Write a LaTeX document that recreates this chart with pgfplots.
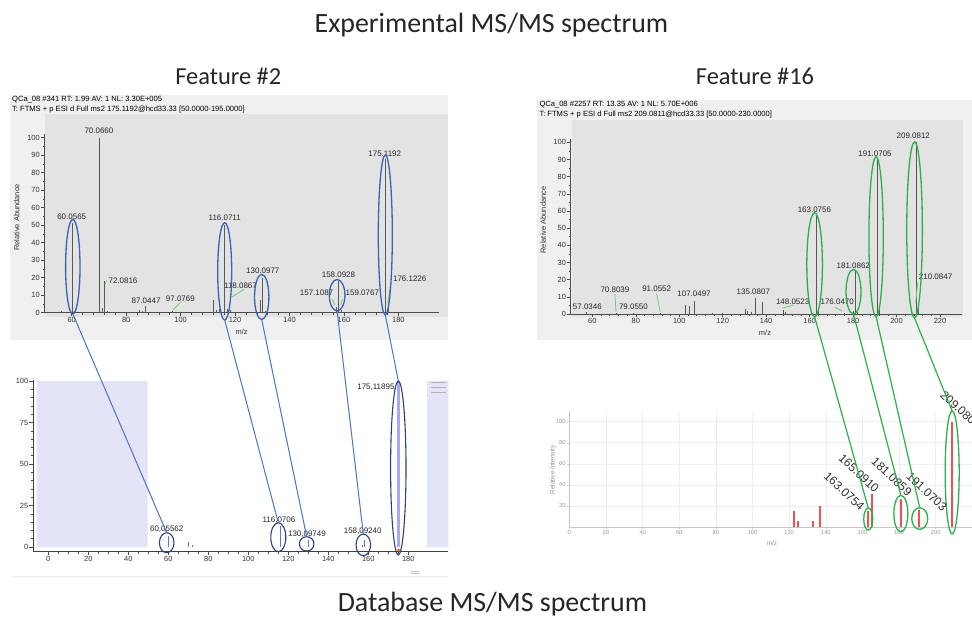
\documentclass[border=0pt]{standalone}
\usepackage{pgfplots}
\pgfplotsset{compat=1.18}
\usepackage{fontspec}
\setmainfont{Carlito}
\newfontfamily\arial{Liberation Sans}
\definecolor{tlblue}{HTML}{3C62B4}
\definecolor{lnblue}{HTML}{4A74C6}
\definecolor{navy}{HTML}{2A4180}
\definecolor{grn}{HTML}{2DB04C}
\definecolor{lgrn}{HTML}{70CC70}
\definecolor{outerg}{HTML}{F0F0F0}
\definecolor{innerg}{HTML}{E3E3E3}
\definecolor{lav}{HTML}{E4E4F8}
\definecolor{purp}{HTML}{6C6CE0}
\definecolor{purpl}{HTML}{A8A8F2}
\definecolor{redbar}{HTML}{EF5050}
\definecolor{ttl}{HTML}{262626}

\tikzset{lbl/.style={font=\arial\fontsize{8}{9}\selectfont, text=black!85, inner sep=0.5bp}}
\pgfplotsset{
  nolinearrows/.style={axis line style={-}, every outer x axis line/.append style={-}, every outer y axis line/.append style={-}},
  xcal/.style={
    scale only axis, clip=false,
    axis lines=left, nolinearrows, axis line style={black!70, line width=0.6bp},
    tick align=outside, major tick length=3.5bp, minor tick length=2bp,
    every tick/.style={black!70, line width=0.5bp},
    tick label style={font=\arial\fontsize{7.5}{9}\selectfont, text=black!80, inner sep=1bp},
    /pgf/number format/assume math mode=true,
    ymin=0, ymax=102,
    ytick={0,10,...,100}, minor y tick num=1,
    xtick={60,80,...,220}, minor x tick num=4,
  },
  spk/.style={ycomb, no marks, draw=black!65, line width=0.6bp},
}

\begin{document}
\begin{tikzpicture}[x=1bp,y=1bp]
\useasboundingbox (0,0) rectangle (972,620);
\clip (0,0) rectangle (972,620);
\fill[white] (0,0) rectangle (972,620);
% titles
\node[anchor=base, text=ttl, font=\fontsize{28}{30}\selectfont] at (491.5,587) {Experimental MS/MS spectrum};
\node[anchor=base, text=ttl, font=\fontsize{24.5}{27}\selectfont] at (228.3,535) {Feature \#2};
\node[anchor=base, text=ttl, font=\fontsize{24.5}{27}\selectfont] at (755,535) {Feature \#16};
\node[anchor=base, text=ttl, font=\fontsize{28}{30}\selectfont] at (492.5,8.3) {Database MS/MS spectrum};
% panel backgrounds
\fill[outerg] (10,280) rectangle (448,525);
\fill[innerg] (45,303) rectangle (448,506);
\fill[outerg] (537,280) rectangle (972,520);
\fill[innerg] (572,303) rectangle (963,500);
% headers
\node[anchor=west, font=\arial\fontsize{7.6}{9}\selectfont, inner sep=0] at (12,520) {QCa\_08 \#341 RT: 1.99 AV: 1 NL: 3.30E+005};
\node[anchor=west, font=\arial\fontsize{7.6}{9}\selectfont, inner sep=0] at (12,510.7) {T: FTMS + p ESI d Full ms2 175.1192@hcd33.33 [50.0000-195.0000]};
\node[anchor=west, font=\arial\fontsize{7.6}{9}\selectfont, inner sep=0] at (539.3,515) {QCa\_08 \#2257 RT: 13.35 AV: 1 NL: 5.70E+006};
\node[anchor=west, font=\arial\fontsize{7.6}{9}\selectfont, inner sep=0] at (539.3,505.7) {T: FTMS + p ESI d Full ms2 209.0811@hcd33.33 [50.0000-230.0000]};
% axis labels top
\node[rotate=90, font=\arial\fontsize{7.5}{9}\selectfont, text=black!80] at (16.7,402.5) {Relative Abundance};
\node[font=\arial\fontsize{7.5}{9}\selectfont, text=black!80] at (241.7,288.3) {m/z};
\node[rotate=90, font=\arial\fontsize{7.5}{9}\selectfont, text=black!80] at (543.3,400) {Relative Abundance};
\node[font=\arial\fontsize{7.5}{9}\selectfont, text=black!80] at (765,286.7) {m/z};

% ---------------- top left
\begin{axis}[xcal, at={(44.5bp,307.3bp)}, anchor=south west, width=394.7bp, height=178.5bp, xmin=50, xmax=195, xtick={60,80,...,180}]
\addplot[spk] coordinates {(56,0.8)(60.06,51)(61.05,0.8)(70.07,100)(71.05,2.5)(72.08,18)(73.1,1)(84.9,1.5)(86,1)(87.04,4)(97.08,1)(100.5,0.5)(112.05,7)(113,1.5)(114.05,2)(116.07,50)(117.07,2)(118.09,1.5)(129.1,7.5)(130.1,20)(131.1,1)(140,0.5)(157.11,3)(158.09,18)(159.08,1.5)(175.12,88)(176.12,3)};
\draw[lgrn, line width=0.8bp] (axis cs:97.2,1.5) -- (axis cs:100,6);
\draw[lgrn, line width=0.8bp] (axis cs:118.7,8.8) -- (axis cs:123.3,13.4);
\draw[lgrn, line width=0.8bp] (axis cs:155.7,7.7) -- (axis cs:156.7,4.4);
\draw[lgrn, line width=0.8bp] (axis cs:159.4,7.7) -- (axis cs:158.9,4.4);
\draw[lgrn, line width=0.8bp] (axis cs:176.1,5.4) -- (axis cs:177.1,15.8);
\draw[lgrn, line width=0.8bp] (axis cs:72.3,16.5) -- (axis cs:72.9,18.5);
\node[lbl] at (axis cs:60,54.9) {60.0565};
\node[lbl] at (axis cs:70,104) {70.0660};
\node[lbl, anchor=west] at (axis cs:73.3,18.1) {72.0816};
\node[lbl] at (axis cs:87.3,7.1) {87.0447};
\node[lbl] at (axis cs:99.9,8.2) {97.0769};
\node[lbl] at (axis cs:116.2,54.5) {116.0711};
\node[lbl] at (axis cs:122,15.3) {118.0867};
\node[lbl] at (axis cs:130.2,24) {130.0977};
\node[lbl] at (axis cs:158,21.9) {158.0928};
\node[lbl, anchor=east] at (axis cs:156.3,11.4) {157.1087};
\node[lbl, anchor=west] at (axis cs:160.4,11.4) {159.0767};
\node[lbl] at (axis cs:175,91) {175.1192};
\node[lbl, anchor=west] at (axis cs:177.8,19.4) {176.1226};
\draw[tlblue, line width=1.3bp] (axis cs:60.4,26.3) ellipse [x radius=7.2bp, y radius=47.3bp];
\draw[tlblue, line width=1.3bp] (axis cs:116.2,23.6) ellipse [x radius=7bp, y radius=48.7bp];
\draw[tlblue, line width=1.3bp] (axis cs:129.8,9) ellipse [x radius=7.2bp, y radius=22.6bp];
\draw[tlblue, line width=1.3bp] (axis cs:157.5,10) ellipse [x radius=7.8bp, y radius=15.7bp];
\draw[tlblue, line width=1.3bp] (axis cs:175.2,44.4) ellipse [x radius=7bp, y radius=80bp];
\coordinate (TL60) at (axis cs:60.4,-0.7);
\coordinate (TL116) at (axis cs:116.2,-4.2);
\coordinate (TL130) at (axis cs:129.8,-3.9);
\coordinate (TL158) at (axis cs:157.5,1);
\coordinate (TL175) at (axis cs:175.2,-1.3);
\end{axis}

% ---------------- top right
\begin{axis}[xcal, at={(570.6bp,306bp)}, anchor=south west, width=391.1bp, height=175.1bp, xmin=50, xmax=230]
\addplot[spk] coordinates {(57.03,1)(70.8,0.5)(79.06,0.6)(91.06,0.6)(102.7,5.2)(104.6,4.5)(107.05,7.8)(115,0.5)(120,0.4)(130.3,3)(131.5,1.5)(133,1.2)(135.08,9.3)(138.4,7.2)(148.05,2.5)(149,1)(163.08,57)(164.08,2)(176.05,0.5)(180.1,2)(181.09,25)(182.09,1)(191.07,91)(192.07,4)(209.08,100)(210.08,5)};
\draw[lgrn, line width=0.8bp] (axis cs:70.4,11.6) -- (axis cs:70.9,1.3);
\draw[lgrn, line width=0.8bp] (axis cs:89.6,12) -- (axis cs:91.2,1.3);
\draw[lgrn, line width=0.8bp] (axis cs:147.4,3.3) -- (axis cs:152.5,5.2);
\draw[lgrn, line width=0.8bp] (axis cs:171.7,3.9) -- (axis cs:175,1.7);
\draw[lgrn, line width=0.8bp] (axis cs:209.7,18.2) -- (axis cs:208.8,6.2);
\node[lbl] at (axis cs:57.7,4.3) {57.0346};
\node[lbl] at (axis cs:70.4,14.4) {70.8039};
\node[lbl] at (axis cs:78.9,4.3) {79.0550};
\node[lbl] at (axis cs:89.6,14.6) {91.0552};
\node[lbl] at (axis cs:106.8,11.5) {107.0497};
\node[lbl] at (axis cs:134.1,12.8) {135.0807};
\node[lbl] at (axis cs:152.2,7) {148.0523};
\node[lbl] at (axis cs:162.2,61) {163.0756};
\node[lbl] at (axis cs:172.7,7) {176.0470};
\node[lbl] at (axis cs:180.1,28.1) {181.0862};
\node[lbl] at (axis cs:190.1,93.6) {191.0705};
\node[lbl] at (axis cs:207.7,103.8) {209.0812};
\node[lbl, anchor=west] at (axis cs:210,21.7) {210.0847};
\draw[grn, line width=1.3bp] (axis cs:162.3,28.7) ellipse [x radius=7.8bp, y radius=52bp];
\draw[grn, line width=1.3bp] (axis cs:180.2,13) ellipse [x radius=7.5bp, y radius=22.3bp];
\draw[grn, line width=1.3bp] (axis cs:190.6,45) ellipse [x radius=7.2bp, y radius=80bp];
\draw[grn, line width=1.3bp] (axis cs:208.3,49) ellipse [x radius=7.8bp, y radius=88bp];
\coordinate (TR163) at (axis cs:162.3,-1.6);
\coordinate (TR181) at (axis cs:180.2,0);
\coordinate (TR191) at (axis cs:190.6,-1.6);
\coordinate (TR209) at (axis cs:208.3,-2.3);
\end{axis}

% ---------------- bottom left
\begin{axis}[xcal, at={(33bp,68.3bp)}, anchor=south west, width=415.3bp, height=171.5bp,
  xmin=-7.65, xmax=200, ymin=-2.8, ymax=100.5,
  xtick={0,20,...,180}, minor x tick num=3, ytick={0,25,...,100}, minor y tick num=4,
  axis line style={black!75, line width=0.9bp}]
\addplot[fill=lav, draw=none] coordinates {(-5.8,0)(-5.8,100)(49.7,100)(49.7,0)} \closedcycle;
\addplot[fill=lav, draw=none] coordinates {(189.4,0)(189.4,100)(200,100)(200,0)} \closedcycle;
\addplot[ycomb, no marks, draw=purp, line width=1.5bp] coordinates {(60.06,6.5)(70.07,3.2)(72.08,1)(116.07,12.5)(130.1,4)(157.11,1)(158.09,4.2)};
\addplot[ycomb, no marks, draw=purpl, line width=2.6bp] coordinates {(175.12,100)};
\addplot[only marks, mark=*, mark size=1.3bp, color=orange!80!red] coordinates {(175.12,-1.8)};
\node[lbl] at (axis cs:59.2,10.7) {60,05562};
\node[lbl] at (axis cs:115.3,16.3) {116,0706};
\node[lbl] at (axis cs:129.3,7.8) {130,09749};
\node[lbl] at (axis cs:157.2,9.8) {158,09240};
\node[lbl] at (axis cs:163.8,96.2) {175,11895};
\draw[navy, line width=1.1bp] (axis cs:59.2,2.6) ellipse [x radius=7.3bp, y radius=10bp];
\draw[navy, line width=1.1bp] (axis cs:115,5.9) ellipse [x radius=7.5bp, y radius=14.5bp];
\draw[navy, line width=1.1bp] (axis cs:129.2,1.9) ellipse [x radius=7.3bp, y radius=7.2bp];
\draw[navy, line width=1.1bp] (axis cs:157.5,1.3) ellipse [x radius=7.3bp, y radius=10.8bp];
\draw[navy, line width=1.1bp] (axis cs:175,47.6) ellipse [x radius=7.7bp, y radius=87bp];
\coordinate (BL60) at (axis cs:59.2,8.6);
\coordinate (BL116) at (axis cs:115,14.6);
\coordinate (BL130) at (axis cs:129.2,6.2);
\coordinate (BL158) at (axis cs:157.5,7.8);
\coordinate (BL175) at (axis cs:175,100);
\end{axis}
% decorations bottom-left
\draw[gray!60, line width=1.2bp] (431,237.3) -- (446,237.3) (431,232.7) -- (446,232.7) (431,227.3) -- (446,227.3);
\draw[gray!50, line width=0.6bp] (411,49) -- (419,49) (411,47) -- (419,47);
\draw[blue!8, line width=0.8bp] (11,43.3) -- (448,43.3);

% ---------------- bottom right
\begin{axis}[scale only axis, clip=false, at={(569.3bp,93bp)}, anchor=south west, width=403bp, height=115.9bp,
  xmin=0, xmax=220, ymin=0, ymax=110,
  axis lines=left, nolinearrows, axis line style={gray!45, line width=0.6bp},
  xtick={0,20,...,200}, ytick={20,40,...,100},
  grid=major, grid style={gray!13, line width=0.5bp},
  tick align=outside, major tick length=2bp, every tick/.style={gray!45},
  tick label style={font=\arial\fontsize{5.8}{7}\selectfont, text=gray!80, inner sep=1.5bp},
  /pgf/number format/assume math mode=true]
\addplot[ycomb, no marks, draw=redbar, line width=1.8bp] coordinates {(122.8,15)(124.9,5.5)(133,5.5)(137,19.6)(163.08,15.5)(165.09,31.5)(181.09,27)(191.07,16)(209.08,100)};
\draw[grn, line width=1.3bp] (axis cs:163.2,7.5) ellipse [x radius=4.5bp, y radius=11bp];
\draw[grn, line width=1.3bp] (axis cs:181,12.75) ellipse [x radius=7bp, y radius=18.2bp];
\draw[grn, line width=1.3bp] (axis cs:191.3,8) ellipse [x radius=8bp, y radius=10.8bp];
\draw[grn, line width=1.3bp] (axis cs:209,51.7) ellipse [x radius=7bp, y radius=61.5bp];
\node[rotate=-43, font=\arial\fontsize{12}{14}\selectfont, text=black!80, inner sep=0] at (axis cs:150.1,34) {163.0754};
\node[rotate=-43, font=\arial\fontsize{12}{14}\selectfont, text=black!80, inner sep=0] at (axis cs:158.1,51) {165.0910};
\node[rotate=-43, font=\arial\fontsize{12}{14}\selectfont, text=black!80, inner sep=0] at (axis cs:176,47.7) {181.0859};
\node[rotate=-43, font=\arial\fontsize{12}{14}\selectfont, text=black!80, inner sep=0] at (axis cs:195.1,33.5) {191.0703};
\node[rotate=-43, font=\arial\fontsize{12}{14}\selectfont, text=black!80, inner sep=0] at (axis cs:213.6,111) {209.0803};
\coordinate (BR163) at (axis cs:163.2,18);
\coordinate (BR181) at (axis cs:181,30);
\coordinate (BR191) at (axis cs:191.3,18.3);
\coordinate (BR209) at (axis cs:209,110);
\end{axis}
\node[rotate=90, font=\arial\fontsize{6.5}{8}\selectfont, text=gray!85] at (553,150) {Relative Intensity};
\node[font=\arial\fontsize{6.5}{8}\selectfont, text=gray!85] at (772,77) {m/z};

% ---------------- connecting lines
\draw[lnblue, line width=1bp] (TL60) -- (BL60);
\draw[lnblue, line width=1bp] (TL116) -- (BL116);
\draw[lnblue, line width=1bp] (TL130) -- (BL130);
\draw[lnblue, line width=1bp] (TL158) -- (BL158);
\draw[lnblue, line width=1bp] (TL175) -- (BL175);
\draw[grn, line width=1.2bp] (TR163) -- (BR163);
\draw[grn, line width=1.2bp] (TR181) -- (BR181);
\draw[grn, line width=1.2bp] (TR191) -- (BR191);
\draw[grn, line width=1.2bp] (TR209) -- (BR209);
\end{tikzpicture}
\end{document}
